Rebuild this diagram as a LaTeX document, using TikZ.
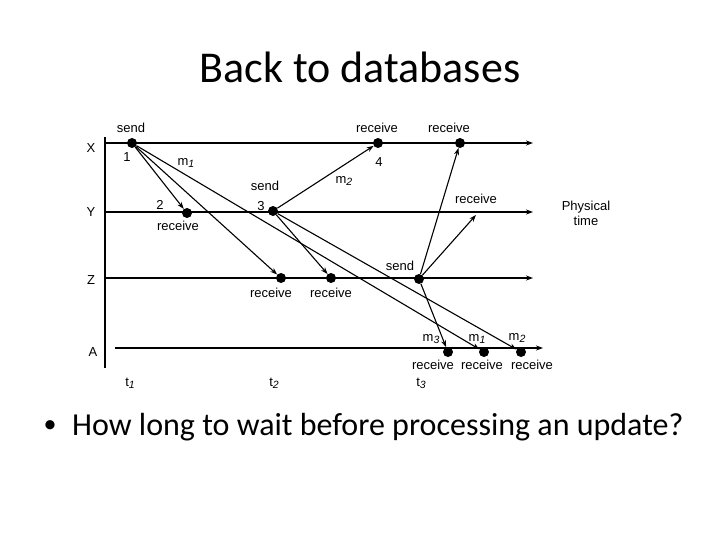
\documentclass[tikz,border=0pt]{standalone}
\usepackage{fontspec}
\setmainfont{Carlito}
\newfontfamily\diagfont{Liberation Sans}
\usetikzlibrary{arrows.meta}

\tikzset{
    dot/.style={circle, fill=black, inner sep=0pt, minimum size=10pt},
    timeline/.style={line width=1.4pt, -{Stealth[length=7pt,width=5pt]}},
    msg/.style={line width=1.1pt, -{Stealth[length=7pt,width=5pt]}},
    lbl/.style={font=\diagfont\fontsize{13}{15}\selectfont, inner sep=0pt}
}
\newcommand{\subit}[2]{#1\raisebox{-0.3ex}{\fontsize{10.5}{10.5}\selectfont\textit{#2}}}

\begin{document}
\begin{tikzpicture}[x=1pt, y=-1pt]
    \useasboundingbox (0,0) rectangle (720,540);

    % titel en tekst
    \node[font=\fontsize{44}{50}\selectfont] (title) at (360,67) {Back to databases};
    \node[font=\fontsize{26}{30}\selectfont] (bul) at (50,427) {\textbullet};
    \node[font=\fontsize{32}{36}\selectfont, anchor=west, inner sep=0pt] (bullet) at (72,427) {How long to wait before processing an update?};

    % tijdas
    \draw[line width=1.4pt] (105,137) -- (105,368);

    % processen
    \draw[timeline] (105,143) -- (533,143);
    \draw[timeline] (105,212) -- (533,212);
    \draw[timeline] (105,278) -- (533,278);
    \draw[timeline] (115,348) -- (543,348);
    \node[lbl] (px) at (91,148) {X};
    \node[lbl] (py) at (91,212) {Y};
    \node[lbl] (pz) at (91,280) {Z};
    \node[lbl] (pa) at (93,352) {A};
    \node[lbl, align=center] (phys) at (586,213) {Physical\\time};

    % gebeurtenissen
    \node[dot] (xsend) at (132,143) {};
    \node[dot] (xrec1) at (378,143) {};
    \node[dot] (xrec2) at (460,143) {};
    \node[dot] (yrec) at (187,213) {};
    \node[dot] (ysend) at (273,211) {};
    \node[dot] (zrec1) at (281,278) {};
    \node[dot] (zrec2) at (331,278) {};
    \node[dot] (zsend) at (419,279) {};
    \node[dot] (arec1) at (448,352) {};
    \node[dot] (arec2) at (484,352) {};
    \node[dot] (arec3) at (521,352) {};
    \coordinate (yrec2) at (476,215);

    % berichten
    \draw[msg] (xsend) -- (yrec);
    \draw[msg] (xsend) -- (zrec1);
    \draw[msg] (xsend) -- (arec2);
    \draw[msg] (ysend) -- (xrec1);
    \draw[msg] (ysend) -- (zrec2);
    \draw[msg] (ysend) -- (arec3);
    \draw[msg] (zsend) -- (xrec2);
    \draw[msg] (zsend) -- (yrec2);
    \draw[msg] (zsend) -- (arec1);

    % labels
    \node[lbl] (l1) at (131,128) {send};
    \node[lbl] (l2) at (127,157) {1};
    \node[lbl] (l3) at (186,163) {\subit{m}{1}};
    \node[lbl] (l4) at (160,205) {2};
    \node[lbl] (l5) at (178,226) {receive};
    \node[lbl] (l6) at (265,186) {send};
    \node[lbl] (l7) at (261,206) {3};
    \node[lbl] (l8) at (344,181) {\subit{m}{2}};
    \node[lbl] (l9) at (377,128) {receive};
    \node[lbl] (l10) at (449,128) {receive};
    \node[lbl] (l11) at (379,162) {4};
    \node[lbl] (l12) at (476,199) {receive};
    \node[lbl] (l13) at (271,293) {receive};
    \node[lbl] (l14) at (331,293) {receive};
    \node[lbl] (l15) at (400,266) {send};
    \node[lbl] (l16) at (431,339) {\subit{m}{3}};
    \node[lbl] (l17) at (477,339) {\subit{m}{1}};
    \node[lbl] (l18) at (517,338) {\subit{m}{2}};
    \node[lbl] (l19) at (433,365) {receive};
    \node[lbl] (l20) at (482,365) {receive};
    \node[lbl] (l21) at (532,365) {receive};
    \node[lbl] (t1) at (130,383) {\subit{t}{1}};
    \node[lbl] (t2) at (274,383) {\subit{t}{2}};
    \node[lbl] (t3) at (421,383) {\subit{t}{3}};
\end{tikzpicture}
\end{document}
